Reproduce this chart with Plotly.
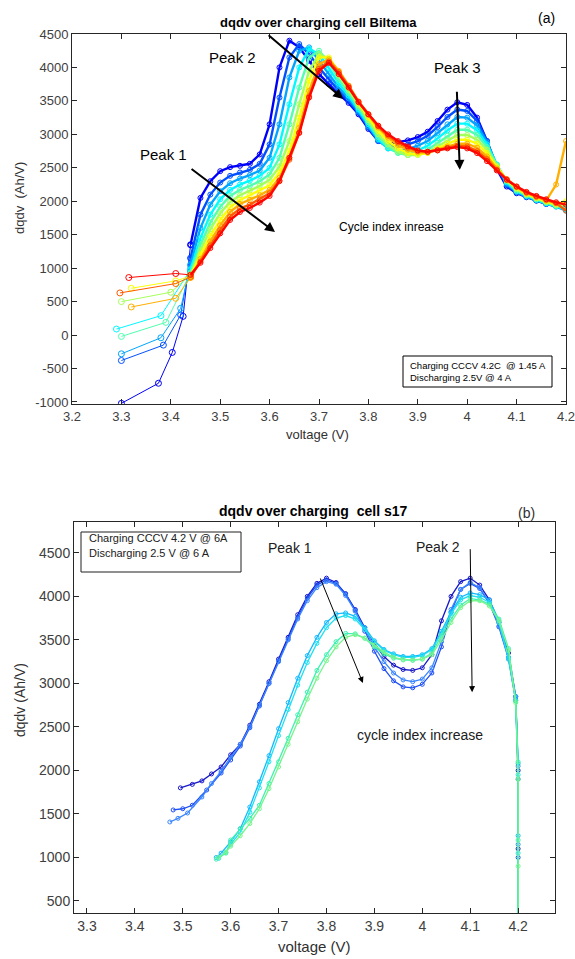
import plotly.graph_objects as go

# ---------------- Panel (a): Biltema cell ----------------
top_voltage = [3.44, 3.46, 3.48, 3.50, 3.52, 3.54, 3.56, 3.58, 3.60, 3.62,
               3.64, 3.66, 3.68, 3.70, 3.72, 3.74, 3.76, 3.78, 3.80, 3.82,
               3.84, 3.86, 3.88, 3.90, 3.92, 3.94, 3.96, 3.98, 4.00, 4.02,
               4.04, 4.06, 4.08, 4.10, 4.12, 4.14, 4.16, 4.18, 4.20]

# first (artifact) points of each cycle, before joining the band
top_start_v = [[3.300, 3.375, 3.403, 3.425],
               [3.300, 3.385, 3.420],
               [3.300, 3.380, 3.420],
               [3.290, 3.380],
               [3.300, 3.390],
               [3.300, 3.400],
               [3.320, 3.410],
               [3.320, 3.410],
               [3.297, 3.410],
               [3.315, 3.410]]
top_start_q = [[-1020, -720, -260, 280],
               [-380, -150, 300],
               [-280, -40, 400],
               [90, 290],
               [-20, 190],
               [500, 640],
               [700, 810],
               [420, 550],
               [630, 770],
               [860, 920]]

cycle_a0 = [1350, 2050, 2300, 2450, 2510, 2530, 2560, 2700, 3150, 4000, 4400, 4300, 4100, 3900, 3750, 3600, 3470, 3300, 3080, 2900, 2860, 2880, 2910, 2960, 3040, 3200, 3370, 3480, 3440, 3250, 2900, 2480, 2220, 2120, 2060, 2010, 1960, 1930, 1900]
cycle_a1 = [1150, 1800, 2100, 2280, 2380, 2430, 2470, 2560, 2850, 3550, 4150, 4350, 4200, 4000, 3820, 3650, 3500, 3320, 3100, 2900, 2820, 2820, 2850, 2900, 2980, 3110, 3260, 3370, 3350, 3200, 2900, 2520, 2240, 2130, 2065, 2010, 1960, 1925, 1880]
cycle_a2 = [1050, 1600, 1950, 2150, 2270, 2340, 2390, 2460, 2650, 3150, 3850, 4250, 4300, 4100, 3900, 3700, 3540, 3340, 3120, 2910, 2790, 2760, 2780, 2830, 2900, 3020, 3150, 3260, 3250, 3130, 2880, 2540, 2260, 2140, 2070, 2015, 1965, 1920, 1860]
cycle_a3 = [980, 1450, 1800, 2030, 2170, 2250, 2310, 2380, 2500, 2850, 3450, 4000, 4280, 4200, 3990, 3760, 3580, 3370, 3150, 2930, 2790, 2730, 2720, 2760, 2830, 2940, 3060, 3160, 3160, 3060, 2850, 2550, 2280, 2150, 2080, 2020, 1970, 1925, 1880]
cycle_a4 = [930, 1350, 1680, 1920, 2080, 2170, 2230, 2300, 2400, 2650, 3150, 3700, 4150, 4250, 4080, 3820, 3620, 3400, 3180, 2960, 2810, 2720, 2690, 2710, 2770, 2870, 2980, 3070, 3070, 2990, 2810, 2540, 2300, 2160, 2090, 2030, 1980, 1930, 1900]
cycle_a5 = [900, 1270, 1580, 1820, 1990, 2090, 2160, 2230, 2320, 2520, 2900, 3450, 3950, 4200, 4130, 3880, 3660, 3430, 3210, 3000, 2850, 2740, 2690, 2690, 2730, 2820, 2910, 2990, 2990, 2920, 2770, 2530, 2310, 2180, 2100, 2040, 1990, 1940, 1950]
cycle_a6 = [880, 1200, 1480, 1720, 1910, 2020, 2090, 2160, 2240, 2430, 2750, 3250, 3800, 4150, 4150, 3930, 3700, 3460, 3250, 3050, 2900, 2790, 2720, 2700, 2720, 2790, 2860, 2920, 2920, 2860, 2720, 2510, 2320, 2200, 2110, 2050, 2000, 1960, 2000]
cycle_a7 = [860, 1140, 1400, 1640, 1840, 1960, 2020, 2090, 2170, 2350, 2650, 3100, 3650, 4050, 4120, 3950, 3730, 3490, 3290, 3100, 2950, 2840, 2770, 2730, 2730, 2770, 2820, 2860, 2860, 2800, 2670, 2490, 2330, 2210, 2120, 2060, 2010, 2250, 2900]
cycle_a8 = [870, 1100, 1340, 1570, 1770, 1890, 1950, 2030, 2120, 2310, 2620, 3030, 3570, 3980, 4090, 3930, 3720, 3490, 3300, 3120, 2980, 2880, 2800, 2750, 2740, 2760, 2800, 2830, 2820, 2750, 2630, 2470, 2330, 2220, 2130, 2070, 2020, 1970, 1860]
cycle_a9 = [900, 1080, 1300, 1520, 1720, 1840, 1900, 1980, 2080, 2300, 2650, 3020, 3550, 3950, 4070, 3900, 3700, 3480, 3300, 3130, 3000, 2900, 2820, 2760, 2740, 2760, 2790, 2810, 2790, 2720, 2600, 2460, 2320, 2220, 2140, 2080, 2030, 1985, 1950]

top_cycles = [cycle_a0, cycle_a1, cycle_a2, cycle_a3, cycle_a4,
              cycle_a5, cycle_a6, cycle_a7, cycle_a8, cycle_a9]

top_xticks = [3.2, 3.3, 3.4, 3.5, 3.6, 3.7, 3.8, 3.9, 4.0, 4.1, 4.2]
top_xlabels = ['3.2', '3.3', '3.4', '3.5', '3.6', '3.7', '3.8', '3.9', '4', '4.1', '4.2']
top_yticks = [-1000, -500, 0, 500, 1000, 1500, 2000, 2500, 3000, 3500, 4000, 4500]
top_ylabels = ['-1000', '-500', '0', '500', '1000', '1500', '2000', '2500', '3000', '3500', '4000', '4500']

# ---------------- Panel (b): cell s17 ----------------
bot_grid = [3.60, 3.62, 3.64, 3.66, 3.68, 3.70, 3.72, 3.74, 3.76, 3.78,
            3.80, 3.82, 3.84, 3.86, 3.88, 3.90, 3.92, 3.94, 3.96, 3.98,
            4.00, 4.02, 4.04, 4.06, 4.08, 4.10, 4.12, 4.14, 4.16, 4.18]
bot_end_v = [4.195, 4.20, 4.20, 4.20]

bot_start_v = [[3.495, 3.52, 3.54, 3.56, 3.58],
               [3.48, 3.50, 3.52, 3.55, 3.58],
               [3.473, 3.49, 3.51, 3.54, 3.56, 3.58],
               [3.57, 3.58],
               [3.575, 3.59],
               [3.57, 3.59],
               [3.575, 3.59]]
bot_start_q = [[1800, 1840, 1880, 1960, 2040],
               [1546, 1560, 1600, 1775, 1970],
               [1408, 1450, 1511, 1695, 1850, 1990],
               [1000, 1050],
               [990, 1060],
               [980, 1050],
               [1000, 1060]]
cycle_b0 = [2180, 2300, 2520, 2760, 3020, 3280, 3530, 3790, 4000, 4150, 4210, 4160, 4030, 3850, 3640, 3460, 3310, 3210, 3160, 3150, 3180, 3330, 3720, 4000, 4170, 4210, 4130, 3960, 3700, 3350]
cycle_b1 = [2120, 2280, 2490, 2740, 3000, 3260, 3510, 3760, 3980, 4130, 4190, 4150, 4030, 3840, 3600, 3370, 3170, 3030, 2960, 2950, 2990, 3120, 3420, 3820, 4080, 4150, 4090, 3920, 3650, 3280]
cycle_b2 = [2150, 2300, 2500, 2750, 3000, 3250, 3500, 3740, 3950, 4100, 4170, 4140, 4010, 3830, 3620, 3420, 3250, 3120, 3040, 3020, 3050, 3180, 3480, 3850, 4080, 4160, 4100, 3930, 3660, 3300]
cycle_b3 = [1180, 1330, 1580, 1870, 2170, 2480, 2780, 3060, 3320, 3530, 3700, 3800, 3810, 3770, 3640, 3490, 3390, 3340, 3310, 3310, 3330, 3400, 3600, 3820, 3990, 4040, 4020, 3960, 3720, 3300]
cycle_b4 = [1150, 1290, 1520, 1800, 2100, 2400, 2700, 2980, 3240, 3460, 3640, 3750, 3780, 3740, 3620, 3480, 3380, 3330, 3300, 3300, 3320, 3390, 3580, 3800, 3960, 4010, 3990, 3930, 3700, 3280]
cycle_b5 = [1200, 1330, 1450, 1600, 1850, 2100, 2370, 2640, 2900, 3150, 3330, 3480, 3575, 3570, 3520, 3420, 3340, 3290, 3270, 3265, 3280, 3350, 3550, 3740, 3900, 3975, 3960, 3910, 3740, 3400]
cycle_b6 = [1130, 1250, 1390, 1560, 1790, 2040, 2300, 2560, 2820, 3060, 3260, 3420, 3530, 3560, 3520, 3440, 3360, 3300, 3275, 3270, 3280, 3330, 3500, 3700, 3870, 3950, 3950, 3890, 3720, 3380]
bot_end_q = [[2850, 2000, 1100, 300],
             [2800, 1900, 1000, 300],
             [2820, 2050, 1150, 300],
             [2850, 2080, 1250, 300],
             [2800, 1950, 1050, 300],
             [2800, 2100, 1200, 300],
             [2780, 1900, 900, 300]]
bot_cycles = [cycle_b0, cycle_b1, cycle_b2, cycle_b3, cycle_b4, cycle_b5, cycle_b6]

bot_xticks = [3.3, 3.4, 3.5, 3.6, 3.7, 3.8, 3.9, 4.0, 4.1, 4.2]
bot_xlabels = ['3.3', '3.4', '3.5', '3.6', '3.7', '3.8', '3.9', '4', '4.1', '4.2']
bot_yticks = [500, 1000, 1500, 2000, 2500, 3000, 3500, 4000, 4500]
bot_ylabels = ['500', '1000', '1500', '2000', '2500', '3000', '3500', '4000', '4500']


def jet(t):
    def c(v):
        return max(0.0, min(1.0, v))
    r = c(1.5 - abs(4 * t - 3))
    g = c(1.5 - abs(4 * t - 2))
    b = c(1.5 - abs(4 * t - 1))
    return 'rgb(%d,%d,%d)' % (round(r * 255), round(g * 255), round(b * 255))


W, H = 575, 959
FONT = 'Liberation Sans, Arial, sans-serif'

fig = go.Figure()

n_top = len(top_cycles)
# thin lead-in segments (first measured points of each cycle)
for i, cyc in enumerate(top_cycles):
    col = jet(0.12 + 0.75 * i / (n_top - 1))
    fig.add_trace(go.Scatter(
        x=top_start_v[i] + top_voltage[:1], y=top_start_q[i] + cyc[:1],
        mode='lines+markers', line=dict(color=col, width=1),
        marker=dict(symbol='circle-open', size=6, color=col, line=dict(width=1)),
        xaxis='x', yaxis='y', showlegend=False))
# dense band part of each cycle
for i, cyc in enumerate(top_cycles):
    col = jet(0.12 + 0.75 * i / (n_top - 1))
    fig.add_trace(go.Scatter(
        x=top_voltage, y=cyc,
        mode='lines+markers', line=dict(color=col, width=2.4),
        marker=dict(symbol='circle-open', size=5, color=col, line=dict(width=1)),
        xaxis='x', yaxis='y', showlegend=False))

bot_colors = ['#1818c8', '#1e50f5', '#3a86ff', '#10b8ff', '#20e0f0', '#3cf2b0', '#78f58c']
for i, cyc in enumerate(bot_cycles):
    col = bot_colors[i]
    fig.add_trace(go.Scatter(
        x=bot_start_v[i] + bot_grid + bot_end_v, y=bot_start_q[i] + cyc + bot_end_q[i],
        mode='lines+markers', line=dict(color=col, width=1.3),
        marker=dict(symbol='circle-open', size=4, color=col, line=dict(width=1)),
        xaxis='x2', yaxis='y2', showlegend=False))


def px_x(p):
    return p / W


def px_y(p):
    return 1 - p / H


axis_style = dict(showline=True, linecolor='#262626', linewidth=1, mirror='ticks',
                  ticks='inside', ticklen=5, tickcolor='#262626', showgrid=False,
                  zeroline=False, ticklabeloverflow='allow', automargin=False)

fig.update_layout(
    width=W, height=H, margin=dict(l=0, r=0, t=0, b=0, autoexpand=False),
    paper_bgcolor='white', plot_bgcolor='white',
    xaxis=dict(domain=[px_x(72), px_x(566)], range=[3.2, 4.2], anchor='y',
               tickvals=top_xticks, ticktext=top_xlabels,
               tickfont=dict(family=FONT, size=13, color='#404040'), **axis_style),
    yaxis=dict(domain=[px_y(404), px_y(34)], range=[-1030, 4500], anchor='x',
               tickvals=top_yticks, ticktext=top_ylabels,
               tickfont=dict(family=FONT, size=13, color='#404040'), **axis_style),
    xaxis2=dict(domain=[px_x(74), px_x(555)], range=[3.273, 4.277], anchor='y2',
                tickvals=bot_xticks, ticktext=bot_xlabels,
                tickfont=dict(family=FONT, size=14, color='#404040'), **axis_style),
    yaxis2=dict(domain=[px_y(913), px_y(522)], range=[362, 4855], anchor='x2',
                tickvals=bot_yticks, ticktext=bot_ylabels,
                tickfont=dict(family=FONT, size=14, color='#404040'), **axis_style),
)

ann = []


def ptext(x, y, text, size, bold=False, color='black', anchor='center', angle=0):
    ann.append(dict(xref='paper', yref='paper', x=px_x(x), y=px_y(y), text=('<b>%s</b>' % text) if bold else text,
                    showarrow=False, xanchor=anchor, yanchor='middle', textangle=angle,
                    font=dict(family=FONT, size=size, color=color)))


# panel (a) texts
ptext(318, 23, 'dqdv over charging cell Biltema', 13, bold=True)
ptext(546, 18, '(a)', 14)
ptext(20, 198, 'dqdv  (Ah/V)', 13, color='#303030', angle=-90)
ptext(317, 434, 'voltage (V)', 13, color='#303030')
ptext(163, 154, 'Peak 1', 15)
ptext(232, 57, 'Peak 2', 15)
ptext(457, 67, 'Peak 3', 15)
ptext(391, 227, 'Cycle index inrease', 12)
ptext(408, 365, 'Charging CCCV 4.2C  @ 1.45 A', 9.5, anchor='left')
ptext(408, 377, 'Discharging 2.5V @ 4 A', 9.5, anchor='left')

# panel (b) texts
ptext(313, 511, 'dqdv over charging  cell s17', 14, bold=True)
ptext(526, 513, '(b)', 14, color='#303030')
ptext(20, 700, 'dqdv (Ah/V)', 14, color='#303030', angle=-90)
ptext(315, 946, 'voltage (V)', 15, color='#303030')
ptext(290, 548, 'Peak 1', 14, color='#202020')
ptext(438, 547, 'Peak 2', 14, color='#202020')
ptext(420, 735, 'cycle index increase', 14, color='#202020')
ptext(87, 538, 'Charging CCCV 4.2 V @ 6A', 11, anchor='left', color='#202020')
ptext(87, 553, 'Discharging 2.5 V @ 6 A', 11, anchor='left', color='#202020')


def arrow(xr, yr, x0, y0, x1, y1, w):
    ann.append(dict(xref=xr, yref=yr, axref=xr, ayref=yr, x=x1, y=y1, ax=x0, ay=y0,
                    text='', showarrow=True, arrowhead=2, arrowsize=1.2 if w < 2 else 1,
                    arrowwidth=w, arrowcolor='black'))


arrow('x', 'y', 3.439, 2500, 3.611, 1540, 2)
arrow('x', 'y', 3.595, 4500, 3.749, 3530, 2)
arrow('x', 'y', 3.979, 3660, 3.985, 2470, 2)
arrow('x2', 'y2', 3.786, 4223, 3.876, 3005, 1)
arrow('x2', 'y2', 4.100, 4560, 4.104, 2900, 1)

fig.update_layout(annotations=ann, shapes=[
    dict(type='rect', xref='paper', yref='paper', x0=px_x(403), x1=px_x(552),
         y0=px_y(387), y1=px_y(356), line=dict(color='black', width=1)),
    dict(type='rect', xref='paper', yref='paper', x0=px_x(81), x1=px_x(241),
         y0=px_y(572), y1=px_y(532), line=dict(color='#202020', width=1)),
])

fig.write_html('out.html')
